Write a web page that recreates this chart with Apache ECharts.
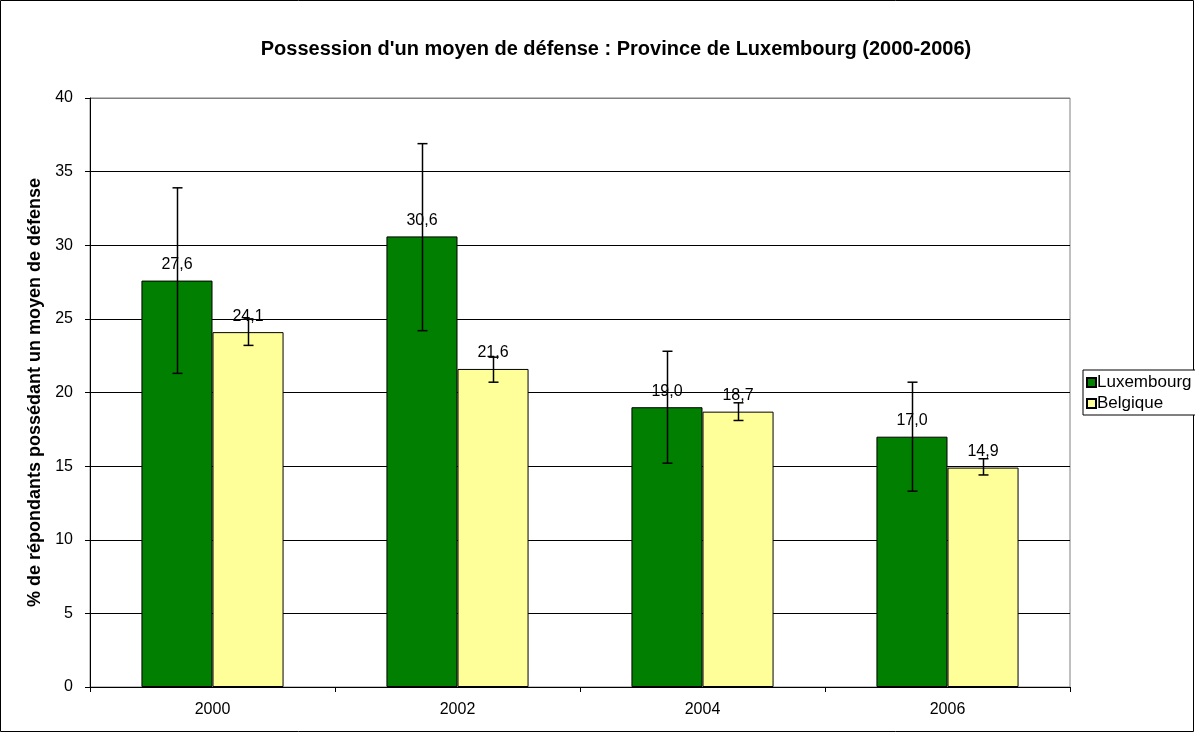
<!DOCTYPE html>
<html>
<head>
<meta charset="utf-8">
<script src="https://cdn.jsdelivr.net/npm/echarts@6/dist/echarts.min.js"></script>
<style>
  html, body { margin: 0; padding: 0; background: #fff; }
  #chart { width: 1195px; height: 733px; }
</style>
</head>
<body>
<div id="chart"></div>
<script>
const years = ['2000', '2002', '2004', '2006']
const luxembourg = [27.6, 30.6, 19.0, 17.0]
const belgique = [24.1, 21.6, 18.7, 14.9]
// error bar bounds
const luxLow = [21.3, 24.2, 15.2, 13.3]
const luxHigh = [33.9, 36.9, 22.8, 20.7]
const belLow = [23.2, 20.7, 18.1, 14.4]
const belHigh = [25.0, 22.4, 19.3, 15.5]
const yTicks = [0, 5, 10, 15, 20, 25, 30, 35, 40]

const font = 'Liberation Sans, Arial, sans-serif'
const fmt = v => v.toFixed(1).replace('.', ',')

function errorBars (low, high, side) {
  return {
    type: 'custom',
    silent: true,
    z: 5,
    data: years.map((y, i) => [i, low[i], high[i]]),
    renderItem (params, api) {
      const cat = api.value(0)
      const bandW = api.size([1, 0])[0]
      const barW = bandW * 0.58 / 2
      const top = api.coord([cat, api.value(2)])
      const bot = api.coord([cat, api.value(1)])
      const x = Math.round(top[0] + side * barW / 2) + 0.5
      const cap = 5
      const style = { stroke: '#000', lineWidth: 1.5 }
      return {
        type: 'group',
        children: [
          { type: 'line', shape: { x1: x, y1: top[1], x2: x, y2: bot[1] }, style },
          { type: 'line', shape: { x1: x - cap, y1: top[1], x2: x + cap, y2: top[1] }, style },
          { type: 'line', shape: { x1: x - cap, y1: bot[1], x2: x + cap, y2: bot[1] }, style }
        ]
      }
    }
  }
}

// last split line (the top one) is the grey plot border
const splitColors = yTicks.map((t, i) => i === yTicks.length - 1 ? '#808080' : '#000')

const chart = echarts.init(document.getElementById('chart'))
chart.setOption({
  animation: false,
  textStyle: { fontFamily: font },
  title: {
    text: "Possession d'un moyen de défense : Province de Luxembourg (2000-2006)",
    left: 611,
    top: 34,
    textAlign: 'center',
    textStyle: { fontSize: 20, fontWeight: 'bold', color: '#000', fontFamily: font }
  },
  legend: {
    orient: 'vertical',
    left: 1083,
    top: 370,
    padding: [4, 6, 3, 3],
    itemGap: 4,
    itemWidth: 9,
    itemHeight: 9,
    icon: 'rect',
    borderColor: '#000',
    borderWidth: 1,
    backgroundColor: '#fff',
    data: ['Luxembourg', 'Belgique'],
    textStyle: { fontSize: 17, color: '#000', fontFamily: font, padding: [0, 0, 0, -4] }
  },
  graphic: [{
    type: 'rect',
    shape: { x: 0.5, y: 0.5, width: 1193, height: 731 },
    style: { fill: 'none', stroke: '#000', lineWidth: 1 },
    z: -1
  }],
  grid: {
    left: 90,
    right: 125,
    top: 98,
    bottom: 46,
    show: true,
    borderColor: '#808080',
    borderWidth: 1
  },
  xAxis: {
    type: 'category',
    data: years,
    axisLine: { lineStyle: { color: '#000' } },
    axisTick: { show: true, length: 5, lineStyle: { color: '#000' } },
    axisLabel: { fontSize: 16, color: '#000', margin: 15, fontFamily: font }
  },
  yAxis: {
    type: 'value',
    min: yTicks[0],
    max: yTicks[yTicks.length - 1],
    interval: 5,
    name: '% de répondants possédant un moyen de défense',
    nameLocation: 'middle',
    nameGap: 46,
    nameTextStyle: { fontSize: 18, fontWeight: 'bold', color: '#000', fontFamily: font },
    axisLine: { show: true, lineStyle: { color: '#000' } },
    axisTick: { show: true, length: 5, lineStyle: { color: '#000' } },
    axisLabel: { fontSize: 16, color: '#000', margin: 17, fontFamily: font },
    splitLine: { lineStyle: { color: splitColors, width: 1 } }
  },
  series: [
    {
      name: 'Luxembourg',
      type: 'bar',
      data: luxembourg,
      barGap: '0%',
      barCategoryGap: '42%',
      itemStyle: { color: '#007F00', borderColor: '#000', borderWidth: 1 },
      label: { show: true, position: 'top', distance: 8, fontSize: 16, color: '#000', fontFamily: font, formatter: p => fmt(p.value) }
    },
    {
      name: 'Belgique',
      type: 'bar',
      data: belgique,
      itemStyle: { color: '#FFFF99', borderColor: '#000', borderWidth: 1 },
      label: { show: true, position: 'top', distance: 8, fontSize: 16, color: '#000', fontFamily: font, formatter: p => fmt(p.value) }
    },
    errorBars(luxLow, luxHigh, -1),
    errorBars(belLow, belHigh, 1)
  ]
})
</script>
</body>
</html>
